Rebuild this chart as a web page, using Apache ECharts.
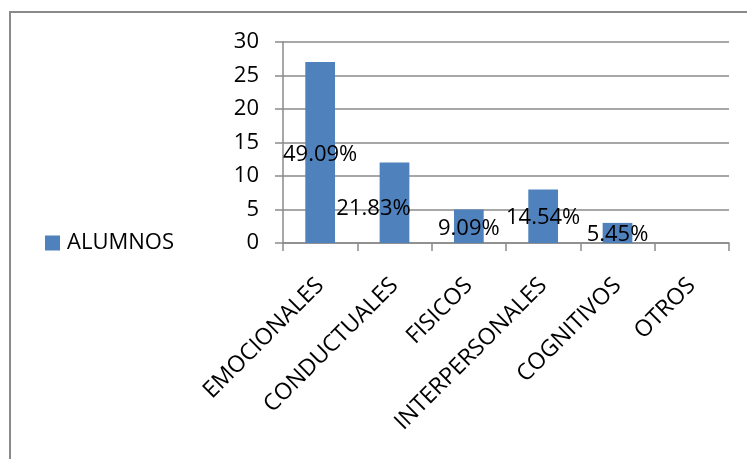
<!DOCTYPE html>
<html><head><meta charset="utf-8">
<script src="https://cdn.jsdelivr.net/npm/echarts@6/dist/echarts.min.js"></script>
<style>html,body{margin:0;padding:0;background:#fff}#c{width:747px;height:459px}</style>
</head><body><div id="c"></div>
<script>
const categories = ['EMOCIONALES', 'CONDUCTUALES', 'FISICOS', 'INTERPERSONALES', 'COGNITIVOS', 'OTROS'];
const alumnos = [27, 12, 5, 8, 3, 0];
const percentLabels = ['49.09%', '21.83%', '9.09%', '14.54%', '5.45%', ''];
const yTickMin = 0, yTickMax = 30, yTickStep = 5;

const FONT = 'Open Sans';
const GRAY = '#8a8a8a';
const chart = echarts.init(document.getElementById('c'), null, {renderer: 'canvas'});

const seriesData = alumnos.map((v, i) => {
  const item = {value: v};
  if (i === 1) item.label = {offset: [-21, 6]};
  else item.label = {offset: [0, 2]};
  return item;
});

chart.setOption({
  animation: false,
  backgroundColor: '#fff',
  textStyle: {fontFamily: FONT},
  graphic: [{
    type: 'rect', z: -1, silent: true,
    shape: {x: 10, y: 12, width: 800, height: 500},
    style: {fill: 'none', stroke: GRAY, lineWidth: 2}
  }],
  legend: {
    data: ['ALUMNOS'], left: 40, top: 227, orient: 'vertical',
    icon: 'rect', itemWidth: 15, itemHeight: 15, itemGap: 0,
    textStyle: {fontFamily: FONT, fontSize: 22, color: '#000', padding: [0, 0, 0, 2]}
  },
  grid: {left: 283, right: 18, top: 42, bottom: 216, containLabel: false},
  xAxis: {
    type: 'category', data: categories,
    axisLine: {show: true, lineStyle: {color: GRAY, width: 1.5}},
    axisTick: {show: true, length: 8, interval: 0, alignWithLabel: false, lineStyle: {color: GRAY, width: 1.5}},
    axisLabel: {rotate: 45, interval: 0, margin: 39, fontFamily: FONT, fontSize: 23, color: '#000'}
  },
  yAxis: {
    type: 'value', min: yTickMin, max: yTickMax, interval: yTickStep,
    axisLine: {show: true, lineStyle: {color: GRAY, width: 1.5}},
    axisTick: {show: true, length: 8, lineStyle: {color: GRAY, width: 1.5}},
    axisLabel: {margin: 24, fontFamily: FONT, fontSize: 22, color: '#000'},
    splitLine: {show: true, lineStyle: {color: GRAY, width: 1.5}}
  },
  series: [{
    name: 'ALUMNOS', type: 'bar', data: seriesData, barWidth: '40%',
    itemStyle: {color: '#4F81BD'},
    label: {
      show: true, position: 'inside', color: '#000', fontFamily: FONT, fontSize: 22,
      formatter: p => percentLabels[p.dataIndex]
    }
  }]
});
</script></body></html>
